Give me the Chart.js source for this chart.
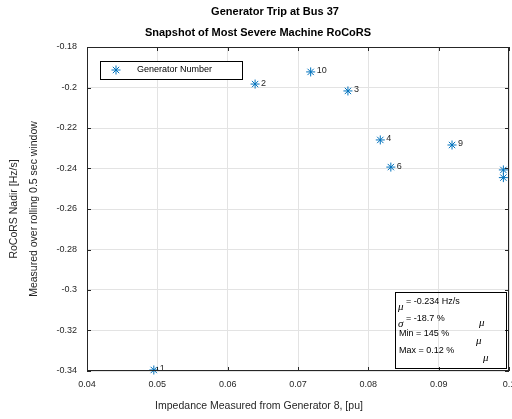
<!DOCTYPE html>
<html><head><meta charset="utf-8">
<script src="https://cdn.jsdelivr.net/npm/chart.js@4.4.0/dist/chart.umd.min.js"></script>
<style>html,body{margin:0;padding:0;background:#fff}canvas{display:block}</style>
</head><body>
<canvas id="c" width="512" height="419"></canvas>
<script>
// generator number, impedance [pu], RoCoRS nadir [Hz/s]
const genNumbers = [1, 2, 10, 3, 4, 6, 9, 7, 8];
const impedance = [0.0495, 0.0639, 0.0718, 0.0771, 0.0817, 0.0832, 0.0919, 0.0992, 0.0992];
const rocors = [-0.3395, -0.1983, -0.1923, -0.2017, -0.2259, -0.2393, -0.2284, -0.2407, -0.2445];
const xTicks = [0.04, 0.05, 0.06, 0.07, 0.08, 0.09, 0.1];
const yTicks = [-0.34, -0.32, -0.3, -0.28, -0.26, -0.24, -0.22, -0.2, -0.18];
const statLines = ['= -0.234 Hz/s', '= -18.7 %', 'Min = 145 %', 'Max = 0.12 %'];

const BLUE = '#0072BD';
const INK = '#262626';
const fmt = v => String(Number(v.toFixed(4)));
const noPad = s => { s.paddingLeft = 0; s.paddingRight = 0; s.paddingTop = 0; s.paddingBottom = 0; };

const decor = {
  id: 'decor',
  afterDatasetsDraw(chart) {
    const { ctx, chartArea: a, scales } = chart;
    // point labels, clipped to the axes
    ctx.save();
    ctx.beginPath();
    ctx.rect(a.left, a.top, a.right - a.left, a.bottom - a.top);
    ctx.clip();
    ctx.font = '9px "Liberation Sans", Arial, sans-serif';
    ctx.fillStyle = INK;
    ctx.textBaseline = 'middle';
    genNumbers.forEach((g, i) => {
      const px = scales.x.getPixelForValue(impedance[i]);
      const py = scales.y.getPixelForValue(rocors[i]);
      ctx.fillText(String(g), px + 6, py - 1);
    });
    ctx.restore();
  },
  afterDraw(chart) {
    const { ctx, chartArea: a, scales } = chart;
    ctx.save();
    // axes box + inward ticks
    ctx.strokeStyle = INK;
    ctx.lineWidth = 1;
    ctx.strokeRect(a.left + 0.5, a.top + 0.5, a.right - a.left - 1, a.bottom - a.top - 1);
    ctx.beginPath();
    xTicks.forEach(v => {
      const x = Math.round(scales.x.getPixelForValue(v)) + 0.5;
      ctx.moveTo(x, a.bottom); ctx.lineTo(x, a.bottom - 4);
      ctx.moveTo(x, a.top); ctx.lineTo(x, a.top + 4);
    });
    yTicks.forEach(v => {
      const y = Math.round(scales.y.getPixelForValue(v)) + 0.5;
      ctx.moveTo(a.left, y); ctx.lineTo(a.left + 4, y);
      ctx.moveTo(a.right, y); ctx.lineTo(a.right - 4, y);
    });
    ctx.stroke();

    // titles
    ctx.fillStyle = '#000';
    ctx.textAlign = 'center';
    ctx.textBaseline = 'middle';
    ctx.font = 'bold 11px "Liberation Sans", Arial, sans-serif';
    ctx.fillText('Generator Trip at Bus 37', 275, 12);
    ctx.fillText('Snapshot of Most Severe Machine RoCoRS', 258, 33);

    // axis titles
    ctx.fillStyle = INK;
    ctx.font = '10.5px "Liberation Sans", Arial, sans-serif';
    ctx.fillText('Impedance Measured from Generator 8, [pu]', 259, 406);
    ctx.save();
    ctx.translate(14, 209);
    ctx.rotate(-Math.PI / 2);
    ctx.fillText('RoCoRS Nadir [Hz/s]', 0, 0);
    ctx.fillText('Measured over rolling 0.5 sec window', 0, 20);
    ctx.restore();

    // legend
    ctx.fillStyle = '#fff';
    ctx.fillRect(100, 61, 142, 18);
    ctx.strokeStyle = '#000';
    ctx.strokeRect(100.5, 61.5, 142, 18);
    drawStar(ctx, 116, 70, 4.5);
    ctx.fillStyle = '#000';
    ctx.textAlign = 'left';
    ctx.font = '9px "Liberation Sans", Arial, sans-serif';
    ctx.fillText('Generator Number', 137, 70);

    // stats box
    ctx.strokeStyle = '#000';
    ctx.strokeRect(395.5, 292.5, 111, 76);
    ctx.fillStyle = '#000';
    const greek = '11px "Liberation Serif", serif';
    const plain = '9px "Liberation Sans", Arial, sans-serif';
    ctx.font = 'italic ' + greek;
    ctx.fillText('\u03bc', 398, 307);
    ctx.fillText('\u03c3', 398, 324);
    ctx.fillText('\u03bc', 479, 323);
    ctx.fillText('\u03bc', 476, 341);
    ctx.fillText('\u03bc', 483, 358);
    ctx.font = plain;
    ctx.fillText(statLines[0], 406, 302);
    ctx.fillText(statLines[1], 406, 319);
    ctx.fillText(statLines[2], 399, 334);
    ctx.fillText(statLines[3], 399, 351);
    ctx.restore();
  }
};

function drawStar(ctx, x, y, r) {
  ctx.save();
  ctx.strokeStyle = BLUE;
  ctx.lineWidth = 1;
  ctx.beginPath();
  for (let k = 0; k < 4; k++) {
    const t = k * Math.PI / 4;
    ctx.moveTo(x - r * Math.cos(t), y - r * Math.sin(t));
    ctx.lineTo(x + r * Math.cos(t), y + r * Math.sin(t));
  }
  ctx.stroke();
  ctx.restore();
}

new Chart(document.getElementById('c'), {
  type: 'scatter',
  data: {
    datasets: [{
      label: 'Generator Number',
      data: impedance.map((x, i) => ({ x, y: rocors[i] })),
      pointStyle: 'star',
      pointRadius: 4.5,
      pointBorderColor: BLUE,
      pointBackgroundColor: BLUE,
      pointBorderWidth: 1,
      clip: false
    }]
  },
  options: {
    responsive: false,
    animation: false,
    layout: { autoPadding: false, padding: { top: 47, right: 3, left: 0, bottom: 0 } },
    plugins: { legend: { display: false }, tooltip: { enabled: false } },
    scales: {
      x: {
        type: 'linear', min: 0.04, max: 0.1,
        afterBuildTicks: s => { s.ticks = xTicks.map(v => ({ value: v })); },
        afterFit: s => { s.height = 48; noPad(s); },
        grid: { color: '#e3e3e3', drawTicks: false },
        border: { display: false },
        ticks: {
          padding: 8, color: INK, maxRotation: 0, autoSkip: false,
          font: { family: '"Liberation Sans", Arial, sans-serif', size: 9 },
          callback: v => fmt(v)
        }
      },
      y: {
        type: 'linear', min: -0.34, max: -0.18,
        afterBuildTicks: s => { s.ticks = yTicks.map(v => ({ value: v })); },
        afterFit: s => { s.width = 87; noPad(s); },
        grid: { color: '#e3e3e3', drawTicks: false },
        border: { display: false },
        ticks: {
          padding: 10, color: INK, autoSkip: false,
          font: { family: '"Liberation Sans", Arial, sans-serif', size: 9 },
          callback: v => fmt(v)
        }
      }
    }
  },
  plugins: [decor]
});
</script>
</body></html>
